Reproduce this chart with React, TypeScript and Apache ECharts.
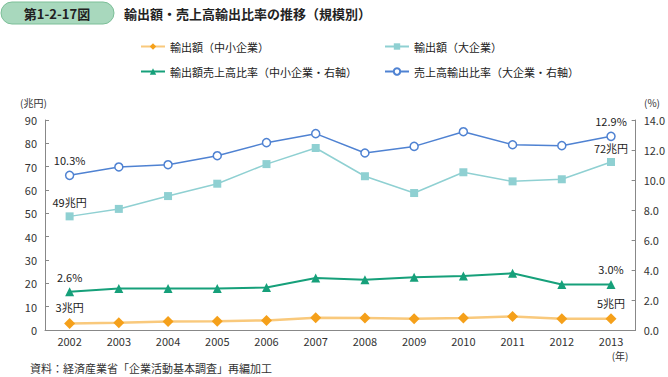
import React, { useEffect, useRef } from "react";
import * as echarts from "echarts";

const years = ["2002", "2003", "2004", "2005", "2006", "2007", "2008", "2009", "2010", "2011", "2012", "2013"];
const smeExport = [2.8, 3.1, 3.6, 3.8, 4.1, 5.3, 5.1, 4.8, 5.1, 5.8, 4.8, 4.8];
const largeExport = [48.7, 51.9, 57.4, 62.7, 71.1, 78.0, 65.9, 58.7, 67.6, 63.7, 64.6, 72.0];
const smeRatio = [2.55, 2.76, 2.76, 2.76, 2.83, 3.47, 3.35, 3.52, 3.6, 3.78, 3.04, 3.04];
const largeRatio = [10.31, 10.87, 11.02, 11.62, 12.49, 13.09, 11.8, 12.24, 13.22, 12.35, 12.29, 12.91];
const leftTicks = { min: 0, max: 90, interval: 10 };
const rightTicks = { min: 0, max: 14, interval: 2 };

const seriesNames = [
  "輸出額（中小企業）",
  "輸出額（大企業）",
  "輸出額売上高比率（中小企業・右軸）",
  "売上高輸出比率（大企業・右軸）",
];

const FONT = "'Noto Sans CJK JP', 'Noto Sans', sans-serif";

function endLabels(first: string, last: string) {
  return {
    show: true,
    position: "top" as const,
    distance: 5,
    fontSize: 11,
    color: "#222",
    fontFamily: FONT,
    formatter: (p: any) => (p.dataIndex === 0 ? first : p.dataIndex === years.length - 1 ? last : ""),
  };
}

export default function App() {
  const ref = useRef<HTMLDivElement>(null);
  useEffect(() => {
    if (!ref.current) return;
    const chart = echarts.init(ref.current, null, { renderer: "svg" });
    const legendBase = {
      orient: "horizontal" as const,
      itemWidth: 24,
      itemHeight: 8,
      padding: 0,
      textStyle: { fontSize: 11, color: "#222", fontFamily: FONT },
    };
    chart.setOption({
      animation: false,
      textStyle: { fontFamily: FONT },
      grid: { left: 45, right: 23, top: 120, bottom: 47 },
      legend: [
        { ...legendBase, data: [seriesNames[0]], left: 140, top: 41 },
        { ...legendBase, data: [seriesNames[2]], left: 140, top: 66 },
        { ...legendBase, data: [seriesNames[1]], left: 384, top: 41 },
        { ...legendBase, data: [seriesNames[3]], left: 384, top: 66 },
      ],
      xAxis: {
        type: "category",
        data: years,
        boundaryGap: true,
        axisLine: { lineStyle: { color: "#888", width: 1 } },
        axisTick: { inside: true, length: 4, lineStyle: { color: "#888" } },
        axisLabel: { fontSize: 11, color: "#333", margin: 5 },
      },
      yAxis: [
        {
          type: "value",
          ...leftTicks,
          axisLine: { show: true, lineStyle: { color: "#888" } },
          axisTick: { show: true, inside: true, length: 4, lineStyle: { color: "#888" } },
          axisLabel: { fontSize: 11, color: "#333", margin: 8 },
          splitLine: { show: false },
        },
        {
          type: "value",
          ...rightTicks,
          position: "right",
          axisLine: { show: true, lineStyle: { color: "#888" } },
          axisTick: { show: true, inside: true, length: 4, lineStyle: { color: "#888" } },
          axisLabel: { fontSize: 11, color: "#333", margin: 8, formatter: (v: number) => v.toFixed(1) },
          splitLine: { show: false },
        },
      ],
      series: [
        {
          name: seriesNames[0],
          type: "line",
          yAxisIndex: 0,
          data: smeExport,
          symbol: "diamond",
          symbolSize: 11,
          lineStyle: { color: "#f9c97c", width: 2.5 },
          itemStyle: { color: "#f5a01a" },
          label: endLabels("3兆円", "5兆円"),
          z: 4,
        },
        {
          name: seriesNames[1],
          type: "line",
          yAxisIndex: 0,
          data: largeExport,
          symbol: "rect",
          symbolSize: 8,
          lineStyle: { color: "#8fd0d2", width: 1.5 },
          itemStyle: { color: "#8fd0d2" },
          label: endLabels("49兆円", "72兆円"),
        },
        {
          name: seriesNames[2],
          type: "line",
          yAxisIndex: 1,
          data: smeRatio,
          symbol: "triangle",
          symbolSize: 9,
          lineStyle: { color: "#16a07a", width: 2 },
          itemStyle: { color: "#16a07a" },
          label: endLabels("2.6%", "3.0%"),
        },
        {
          name: seriesNames[3],
          type: "line",
          yAxisIndex: 1,
          data: largeRatio,
          symbol: "circle",
          symbolSize: 8,
          lineStyle: { color: "#4f82d2", width: 1.5 },
          itemStyle: { color: "#ffffff", borderColor: "#4f82d2", borderWidth: 1.5 },
          label: endLabels("10.3%", "12.9%"),
        },
      ],
      graphic: [
        {
          type: "rect",
          shape: { x: 1, y: 2, width: 113, height: 22, r: 11 },
          style: { fill: "#a8d8bd", stroke: "#7cbf98", lineWidth: 1 },
        },
        {
          type: "text",
          x: 57,
          y: 13,
          style: {
            text: "第1-2-17図",
            fontSize: 13,
            fontWeight: "bold",
            fill: "#222",
            fontFamily: FONT,
            align: "center",
            verticalAlign: "middle",
          },
        },
        {
          type: "text",
          x: 124,
          y: 13,
          style: {
            text: "輸出額・売上高輸出比率の推移（規模別）",
            fontSize: 13,
            fontWeight: "bold",
            fill: "#222",
            fontFamily: FONT,
            verticalAlign: "middle",
          },
        },
        {
          type: "text",
          x: 20,
          y: 102,
          style: { text: "(兆円)", fontSize: 10, fill: "#333", fontFamily: FONT, verticalAlign: "middle" },
        },
        {
          type: "text",
          x: 660,
          y: 102,
          style: { text: "(%)", fontSize: 10, fill: "#333", fontFamily: FONT, align: "right", verticalAlign: "middle" },
        },
        {
          type: "text",
          x: 620,
          y: 355,
          style: { text: "(年)", fontSize: 10, fill: "#333", fontFamily: FONT, align: "center", verticalAlign: "middle" },
        },
        {
          type: "text",
          x: 30,
          y: 368,
          style: {
            text: "資料：経済産業省「企業活動基本調査」再編加工",
            fontSize: 11,
            fill: "#333",
            fontFamily: FONT,
            verticalAlign: "middle",
          },
        },
      ],
    });
    return () => chart.dispose();
  }, []);
  return <div ref={ref} style={{ width: 668, height: 377, position: "fixed", left: 0, top: 0, background: "#fff" }} />;
}
